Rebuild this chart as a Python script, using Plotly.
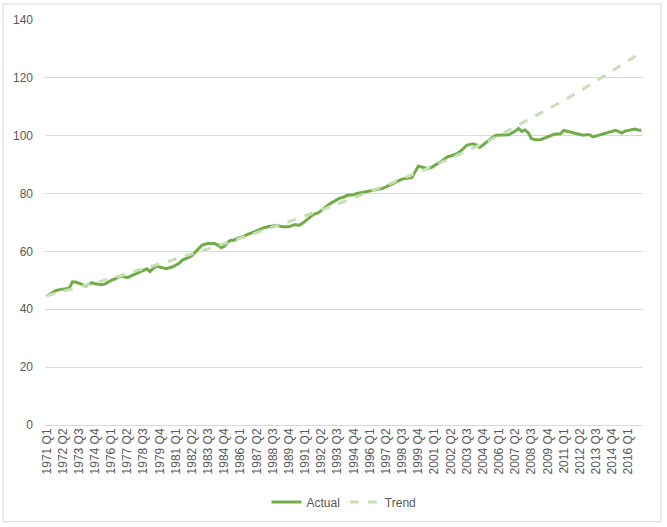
import plotly.graph_objects as go

years = list(range(1971, 2018))
quarters = [f"{y} Q{q}" for y in years for q in range(1, 5)][:185]

actual = [
    44.6, 45.3, 46.0, 46.5,
    46.8, 47.0, 47.1, 47.3,
    49.5, 49.4, 49.0, 48.5,
    48.0, 48.6, 49.2, 48.8,
    48.6, 48.5, 48.7, 49.5,
    50.0, 50.4, 51.0, 51.5,
    51.2, 50.9, 51.5, 52.0,
    52.5, 53.0, 53.5, 54.0,
    53.0, 54.2, 54.9, 54.7,
    54.3, 54.0, 54.3, 54.7,
    55.3, 55.9, 57.0, 57.4,
    57.9, 58.6, 59.8, 61.2,
    62.1, 62.5, 62.8, 62.7,
    62.7, 62.2, 61.3, 61.8,
    63.2, 63.9, 63.9, 64.5,
    64.8, 65.2, 65.8, 66.2,
    66.7, 67.2, 67.6, 68.1,
    68.5, 68.7, 68.8, 69.0,
    68.8, 68.5, 68.5, 68.5,
    69.0, 69.3, 69.0, 69.6,
    70.5, 71.5, 72.3, 73.0,
    73.3, 74.2, 75.2, 76.0,
    76.7, 77.5, 78.0, 78.5,
    78.8, 79.4, 79.5, 79.6,
    80.0, 80.2, 80.4, 80.6,
    80.9, 81.0, 81.2, 81.4,
    81.8, 82.3, 82.9, 83.5,
    84.0, 84.5, 85.0, 85.3,
    85.4, 85.5, 87.5, 89.5,
    89.2, 89.0, 88.6, 89.0,
    89.8, 90.4, 91.0, 91.8,
    92.7, 93.0, 93.3, 93.8,
    94.6, 95.5, 96.7, 97.0,
    97.2, 96.8, 96.0, 96.8,
    97.8, 98.7, 99.5, 100.2,
    100.2, 100.2, 100.3, 100.3,
    101.0, 101.6, 102.5, 101.5,
    102.0, 101.0, 99.0, 98.6,
    98.6, 98.7, 99.2, 99.6,
    100.1, 100.5, 100.6, 100.7,
    101.8, 101.5, 101.2, 101.0,
    100.7, 100.5, 100.2, 100.3,
    100.3, 99.6, 99.9, 100.3,
    100.5, 101.0, 101.3, 101.5,
    101.9, 101.4, 100.9, 101.6,
    101.9, 102.1, 102.3, 102.0,
    101.8,
]

trend = [
    44.7, 45.0, 45.2, 45.5,
    45.8, 46.1, 46.4, 46.6,
    47.0, 47.3, 47.5, 47.8,
    48.3, 48.6, 48.8, 49.1,
    49.5, 49.8, 50.1, 50.4,
    50.7, 51.0, 51.3, 51.6,
    52.1, 52.4, 52.7, 53.0,
    53.4, 53.7, 54.0, 54.3,
    54.7, 55.0, 55.4, 55.7,
    56.1, 56.4, 56.7, 57.0,
    57.5, 57.8, 58.1, 58.4,
    58.9, 59.2, 59.5, 59.9,
    60.2, 60.6, 60.9, 61.2,
    61.7, 62.0, 62.4, 62.7,
    63.1, 63.4, 63.8, 64.2,
    64.6, 65.0, 65.4, 65.7,
    66.1, 66.5, 66.8, 67.2,
    67.6, 68.0, 68.4, 68.8,
    69.1, 69.5, 69.9, 70.3,
    70.7, 71.1, 71.5, 71.9,
    72.2, 72.6, 73.0, 73.5,
    73.9, 74.3, 74.7, 75.1,
    75.5, 75.9, 76.3, 76.8,
    77.2, 77.6, 78.1, 78.5,
    78.9, 79.3, 79.8, 80.2,
    80.6, 81.0, 81.5, 82.0,
    82.3, 82.8, 83.3, 83.7,
    84.1, 84.6, 85.1, 85.6,
    86.0, 86.4, 86.9, 87.4,
    87.8, 88.3, 88.8, 89.4,
    89.7, 90.2, 90.7, 91.2,
    91.6, 92.2, 92.7, 93.2,
    93.7, 94.2, 94.8, 95.3,
    95.6, 96.2, 96.8, 97.3,
    97.8, 98.3, 98.9, 99.5,
    99.9, 100.5, 101.1, 101.7,
    102.3, 102.9, 103.5, 104.1,
    104.7, 105.3, 105.9, 106.5,
    107.1, 107.7, 108.4, 109.0,
    109.6, 110.2, 110.9, 111.5,
    112.2, 112.8, 113.5, 114.1,
    114.8, 115.4, 116.1, 116.8,
    117.5, 118.1, 118.8, 119.5,
    120.2, 120.9, 121.6, 122.3,
    123.0, 123.7, 124.4, 125.1,
    125.9, 126.6, 127.3, 128.1,
    128.8,
]

tick_labels = quarters[::5]
y_ticks = [0, 20, 40, 60, 80, 100, 120, 140]

fig = go.Figure()
fig.add_trace(go.Scatter(
    x=quarters, y=actual, name="Actual", mode="lines",
    line=dict(color="#70AD47", width=3),
))
fig.add_trace(go.Scatter(
    x=quarters, y=trend, name="Trend", mode="lines",
    line=dict(color="#C5E0B4", width=3, dash="dash"),
))

txt = "#595959"
fig.update_layout(
    width=667, height=527,
    margin=dict(l=45, r=24, t=20, b=101),
    paper_bgcolor="white", plot_bgcolor="white",
    font=dict(family="Liberation Sans, Arial, sans-serif", size=11, color=txt),
    showlegend=True,
    legend=dict(orientation="h", x=0.5, xanchor="center", y=-0.187, yanchor="middle",
                font=dict(size=12, color=txt)),
    xaxis=dict(
        type="category", range=[-0.5, len(quarters) - 0.5],
        tickmode="array", tickvals=tick_labels, ticktext=tick_labels,
        tickangle=-90, showgrid=False, showline=False, ticks="",
        tickfont=dict(size=12, color=txt), automargin=False,
    ),
    yaxis=dict(
        range=[0, 140], tickvals=y_ticks, showgrid=True, gridcolor="#D9D9D9",
        gridwidth=1, zeroline=True, zerolinecolor="#D9D9D9", zerolinewidth=1,
        showline=False, ticks="", tickfont=dict(size=12, color=txt),
        ticklabelstandoff=11, automargin=False,
    ),
    shapes=[dict(
        type="rect", xref="paper", yref="paper",
        x0=-0.0702, x1=1.0301, y0=-0.2389, y1=1.0394,
        line=dict(color="#D9D9D9", width=1), fillcolor="rgba(0,0,0,0)", layer="below",
    )],
)

fig.write_html("out.html", config={"displayModeBar": False},
               post_script="document.body.style.margin='0';")
